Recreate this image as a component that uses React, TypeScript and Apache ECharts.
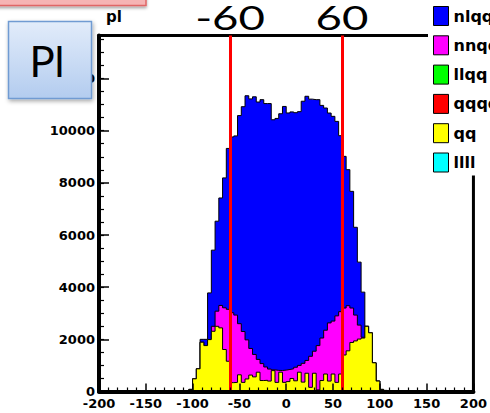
import React, { useEffect, useRef } from "react";
import * as echarts from "echarts";

// Histogram bins (lower edges, width 4); last upper edge = 108
const binLowEdges = [
  -108, -104, -100, -96, -92, -88, -84, -80, -76, -72, -68, -64, -60, -56, -52, -48, -44, -40,
  -36, -32, -28, -24, -20, -16, -12, -8, -4, 0, 4, 8, 12, 16, 20, 24, 28, 32, 36, 40, 44, 48,
  52, 56, 60, 64, 68, 72, 76, 80, 84, 88, 92, 96, 100, 104,
];
const histUpperEdge = 108;

// per-process entries per bin
const qq = [
  30, 80, 486, 870, 1890, 1760, 1990, 2310, 2500, 2440, 1610, 1160, 340, 350, 640, 350, 480, 630,
  560, 740, 420, 430, 400, 800, 350, 740, 350, 380, 500, 410, 740, 360, 700, 160, 700, 60, 420, 670,
  400, 670, 350, 670, 1400, 1560, 1880, 1940, 2010, 2050, 2500, 2250, 1100, 400, 80, 40,
];
const nnqq = [
  0, 0, 0, 0, 0, 0, 0, 190, 580, 860, 1600, 1990, 2680, 2580, 1960, 1950, 1500, 1020,
  860, 490, 650, 510, 460, 30, 460, 65, 470, 465, 370, 520, 260, 720, 490, 1190, 845, 1700, 1630, 1680,
  2230, 2030, 2550, 2390, 1800, 1730, 1320, 990, 535, 30, 0, 0, 0, 0, 0, 0,
];
const nlqq = [
  0, 0, 0, 0, 110, 240, 1790, 2920, 3450, 4120, 4980, 6170, 6740, 6870, 7980, 8620, 9360, 9570,
  9880, 9870, 10120, 10100, 10180, 9590, 9660, 9845, 10110, 9835, 9850, 9760, 9730, 10050, 10130, 9860, 9645, 9430, 8920, 8520,
  8047, 7850, 7457, 6748, 5816, 5216, 4475, 3366, 2415, 1730, 0, 0, 0, 0, 0, 0,
];
// negligible processes (legend only)
const llqq: number[] = [];
const qqqq: number[] = [];
const llll: number[] = [];

const legendNames = ["nlqq", "nnqq", "llqq", "qqqq", "qq", "llll"];
const legendColors = ["#0000ff", "#ff00ff", "#00ff00", "#ff0000", "#ffff00", "#00ffff"];
const cutValues = [-60, 60];
const cutLabels = ["-60", "60"];

function toSteps(vals: number[]) {
  const pts: number[][] = [[binLowEdges[0], 0]];
  vals.forEach((v, i) => pts.push([binLowEdges[i], v]));
  pts.push([histUpperEdge, vals[vals.length - 1]]);
  pts.push([histUpperEdge, 0]);
  return pts;
}

const FONT = "DejaVu Sans";

export default function App() {
  const ref = useRef<HTMLDivElement>(null);
  useEffect(() => {
    if (!ref.current) return;
    const chart = echarts.init(ref.current, undefined, { renderer: "svg" });
    const magentaTop = qq.map((v, i) => v + nnqq[i]);
    const total = magentaTop.map((v, i) => v + nlqq[i]);

    const histSeries = (name: string, vals: number[], color: string, z: number, extra: any = {}) => ({
      name,
      type: "line",
      step: "end",
      symbol: "none",
      data: toSteps(vals),
      lineStyle: { color: "#000", width: 1 },
      itemStyle: { color },
      areaStyle: { color, opacity: 1 },
      z,
      silent: true,
      ...extra,
    });
    const emptySeries = (name: string, vals: number[], color: string) => ({
      name,
      type: "line",
      data: vals,
      itemStyle: { color },
      lineStyle: { color },
    });

    chart.setOption({
      animation: false,
      title: {
        text: "pl",
        left: 101,
        top: 4,
        textStyle: { fontFamily: FONT, fontWeight: "bold", fontSize: 15, color: "#000" },
      },
      grid: {
        left: 99,
        right: 13.7,
        top: 35.5,
        bottom: 21.5,
        show: true,
        borderColor: "#000",
        borderWidth: 3,
        backgroundColor: "#fff",
      },
      legend: {
        orient: "vertical",
        left: 428,
        top: 0,
        padding: [6, 0, 3, 5],
        itemWidth: 15,
        itemHeight: 19,
        itemGap: 9.3,
        backgroundColor: "#fff",
        icon: "rect",
        selectedMode: false,
        textStyle: { fontFamily: FONT, fontWeight: "bold", fontSize: 16, color: "#000" },
        data: legendNames.map((n, i) => ({
          name: n,
          itemStyle: { color: legendColors[i], borderColor: "#000", borderWidth: 1 },
        })),
      },
      xAxis: {
        type: "value",
        min: -200,
        max: 200,
        interval: 50,
        z: 10,
        axisLine: { show: true, onZero: false, lineStyle: { color: "#000", width: 4 } },
        axisTick: { show: true, inside: true, length: 8, lineStyle: { color: "#000", width: 1.5 } },
        minorTick: { show: true, splitNumber: 5, length: 4, lineStyle: { color: "#000", width: 1.2 } },
        splitLine: { show: false },
        axisLabel: {
          margin: 5,
          fontFamily: FONT,
          fontWeight: "bold",
          fontSize: 13,
          color: "#000",
          formatter: (v: number) => String(v),
        },
      },
      yAxis: [
        {
          type: "value",
          min: 0,
          max: 13650,
          interval: 2000,
          z: 10,
          axisLine: { show: true, onZero: false, lineStyle: { color: "#000", width: 4 } },
          axisTick: { show: true, inside: true, length: 10, lineStyle: { color: "#000", width: 1.5 } },
          splitLine: { show: false },
          axisLabel: {
            margin: 4,
            showMaxLabel: false,
            fontFamily: FONT,
            fontWeight: "bold",
            fontSize: 13,
            color: "#000",
            formatter: (v: number) => String(v),
          },
        },
        {
          type: "value",
          min: 0,
          max: 13650,
          interval: 500,
          position: "left",
          z: 10,
          axisLine: { show: false, onZero: false },
          axisTick: { show: true, inside: true, length: 5, lineStyle: { color: "#000", width: 1.2 } },
          axisLabel: { show: false },
          splitLine: { show: false },
        },
      ],
      series: [
        histSeries("nlqq", total, legendColors[0], 2),
        histSeries("nnqq", magentaTop, legendColors[1], 3),
        emptySeries("llqq", llqq, legendColors[2]),
        emptySeries("qqqq", qqqq, legendColors[3]),
        histSeries("qq", qq, legendColors[4], 4, {
          markLine: {
            silent: true,
            symbol: ["none", "none"],
            label: { show: false },
            lineStyle: { color: "#ff0000", width: 3, type: "solid" },
            data: cutValues.map((v) => ({ xAxis: v })),
          },
        }),
        emptySeries("llll", llll, legendColors[5]),
      ],
      graphic: [
        {
          type: "rect",
          z: 100,
          shape: { x: -3, y: -10, width: 149, height: 15.5 },
          style: {
            fill: "#f6b4b4",
            stroke: "#e06666",
            lineWidth: 1.5,
            shadowBlur: 3,
            shadowOffsetY: 2,
            shadowColor: "rgba(0,0,0,0.35)",
          },
        },
        {
          type: "rect",
          z: 100,
          shape: { x: 8.5, y: 21.5, width: 83, height: 77 },
          style: {
            fill: new echarts.graphic.LinearGradient(0, 0, 0, 1, [
              { offset: 0, color: "#e2ecfa" },
              { offset: 1, color: "#b3ccef" },
            ]),
            stroke: "#6f9bd2",
            lineWidth: 1.5,
            shadowBlur: 4,
            shadowOffsetX: 1,
            shadowOffsetY: 2,
            shadowColor: "rgba(0,0,0,0.35)",
          },
        },
        {
          type: "text",
          z: 101,
          x: 47,
          y: 61,
          style: {
            text: "Pl",
            fontFamily: "Lato",
            fontSize: 42,
            fill: "#000",
            align: "center",
            verticalAlign: "middle",
          },
        },
        ...cutLabels.map((t, i) => ({
          type: "text",
          z: 101,
          x: i === 0 ? 230 : 342,
          y: 17,
          scaleX: 1.38,
          style: {
            text: t,
            fontFamily: "Lato",
            fontSize: 33,
            fill: "#000",
            align: "center",
            verticalAlign: "middle",
          },
        })),
      ],
    });
    return () => chart.dispose();
  }, []);
  return (
    <div
      ref={ref}
      style={{ position: "absolute", left: 0, top: 0, width: 490, height: 413, background: "#fff" }}
    />
  );
}
